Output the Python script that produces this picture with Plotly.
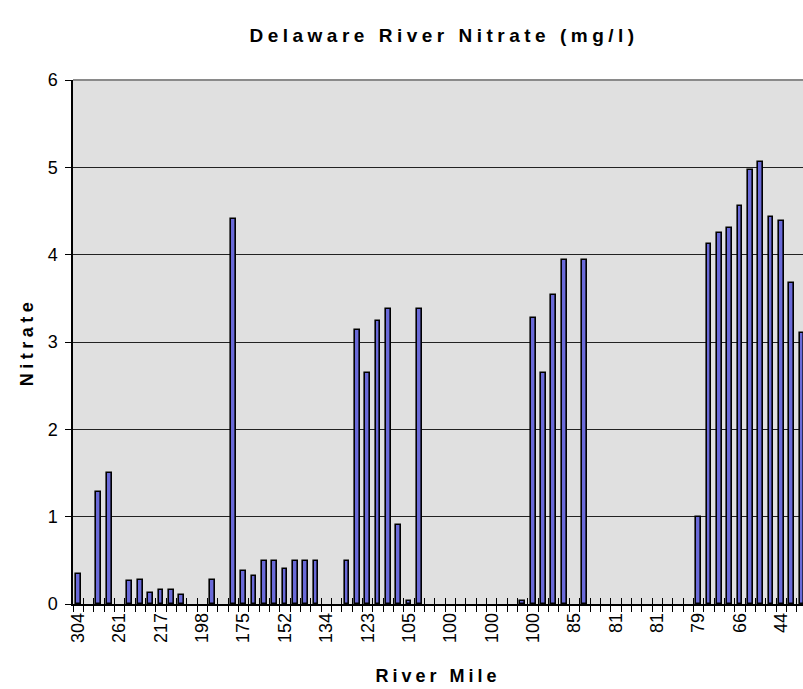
import plotly.graph_objects as go

# River-mile tick labels (shown on every 4th category)
river_mile_labels = ["304", "261", "217", "198", "175", "152", "134", "123", "105",
                     "100", "100", "100", "85", "81", "81", "79", "66", "44"]
label_step = 4

# Nitrate (mg/l) per sampling category, left to right (None = no sample)
nitrate = [
    0.34, None, 1.28, 1.50, None, 0.26, 0.27, 0.13, 0.16, 0.16,
    0.10, None, None, 0.28, None, 4.41, 0.38, 0.32, 0.49, 0.49,
    0.40, 0.49, 0.49, 0.49, None, None, 0.49, 3.14, 2.65, 3.24,
    3.38, 0.91, 0.03, 3.38, None, None, None, None, None, None,
    None, None, None, 0.03, 3.28, 2.65, 3.54, 3.94, None, 3.94,
    None, None, None, None, None, None, None, None, None, None,
    1.00, 4.12, 4.25, 4.30, 4.56, 4.97, 5.06, 4.43, 4.39, 3.68,
    3.10,
]
y_ticks = [0, 1, 2, 3, 4, 5, 6]

n = len(nitrate)
xs = list(range(n))
tick_pos = [i * label_step for i in range(len(river_mile_labels))]
boundaries = [i - 0.5 for i in range(n + 1)]

FONT = "Liberation Sans, Arial, sans-serif"

fig = go.Figure()
fig.add_trace(go.Bar(
    x=xs, y=nitrate, width=0.46,
    marker=dict(color="#6A6AD8", line=dict(color="black", width=1.6)),
    hoverinfo="x+y", showlegend=False,
))
# invisible trace so the overlay axis (inside tick marks) renders
fig.add_trace(go.Scatter(x=[xs[0]], y=[0], xaxis="x2", mode="markers",
                         marker=dict(opacity=0), showlegend=False, hoverinfo="skip"))

xrange = [-0.5, 70.1]
fig.update_layout(
    width=803, height=689,
    margin=dict(l=73, r=0, t=80, b=85, autoexpand=False),
    paper_bgcolor="white", plot_bgcolor="#E0E0E0",
    font=dict(family=FONT, color="black", size=18),
    bargap=0,
    title=dict(
        text='<span style="letter-spacing:4.5px"><b>Delaware River Nitrate (mg/l)</b></span>',
        x=0.553, xanchor="center", y=1 - 35 / 689, yanchor="middle",
        font=dict(family=FONT, size=19, color="black"),
    ),
    xaxis=dict(
        range=xrange, showgrid=False, zeroline=False,
        tickmode="array", tickvals=tick_pos, ticktext=river_mile_labels,
        tickangle=-90, ticks="", ticklen=0,
        tickfont=dict(family=FONT, size=18, color="black"),
        showline=True, linecolor="black", linewidth=1.5,
        minor=dict(tickmode="array", tickvals=boundaries, ticks="outside",
                   ticklen=6, tickcolor="black", tickwidth=1, showgrid=False),
        title=dict(text='<span style="letter-spacing:4px"><b>River Mile</b></span>',
                   font=dict(family=FONT, size=18, color="black"), standoff=27),
    ),
    xaxis2=dict(
        range=xrange, overlaying="x", anchor="y", side="bottom",
        showgrid=False, zeroline=False, showticklabels=False, showline=False,
        tickmode="array", tickvals=boundaries, ticks="inside",
        ticklen=6, tickcolor="black", tickwidth=1,
    ),
    yaxis=dict(
        range=[0, 6], tickmode="array", tickvals=y_ticks,
        showgrid=True, gridcolor="#222222", gridwidth=1, zeroline=False,
        ticks="outside", ticklen=6, tickcolor="black", tickwidth=1,
        tickfont=dict(family=FONT, size=18, color="black"),
        showline=True, linecolor="black", linewidth=1.5,
        ticklabelstandoff=4,
        title=dict(text='<span style="letter-spacing:4.5px"><b>Nitrate</b></span>',
                   font=dict(family=FONT, size=18, color="black"), standoff=9),
    ),
    shapes=[dict(type="line", xref="paper", yref="paper", x0=0, x1=1, y0=1, y1=1,
                 line=dict(color="#8A8A8A", width=2), layer="above")],
)

fig.write_html(
    "out.html",
    config={"displayModeBar": False},
    post_script="document.body.style.margin='0px';document.body.style.overflow='hidden';",
)
